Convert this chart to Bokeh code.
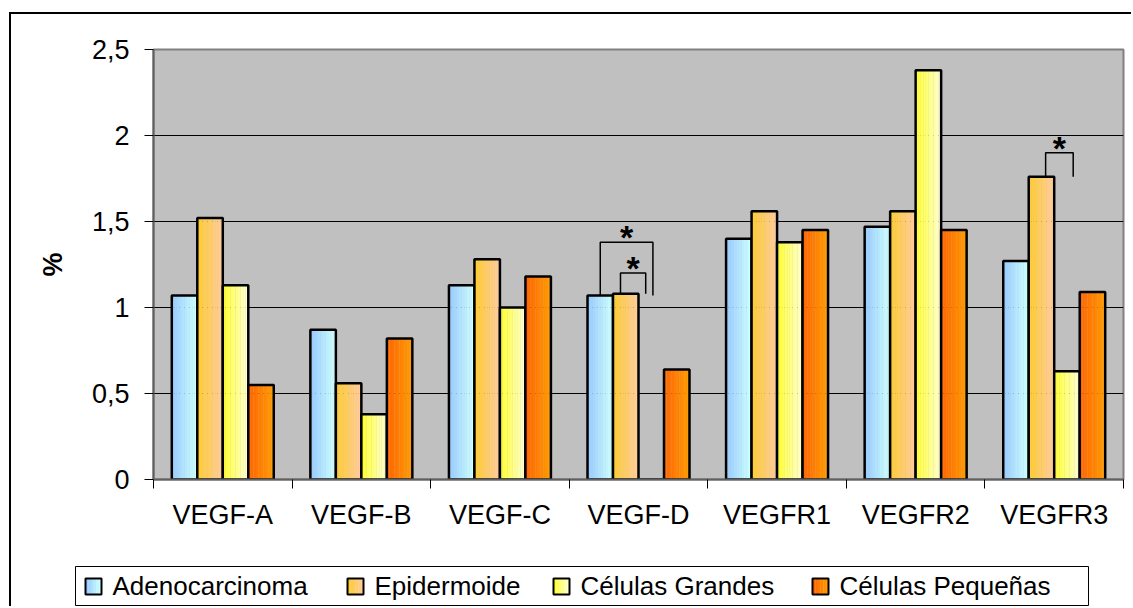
from bokeh.plotting import figure
from bokeh.models import FixedTicker, Range1d
from bokeh.embed import file_html
from bokeh.resources import INLINE
from bokeh.core.properties import value

# ---------------- data ----------------
categories = ["VEGF-A", "VEGF-B", "VEGF-C", "VEGF-D", "VEGFR1", "VEGFR2", "VEGFR3"]
series_names = ["Adenocarcinoma", "Epidermoide", "Células Grandes", "Células Pequeñas"]
adenocarcinoma = [1.07, 0.87, 1.13, 1.07, 1.40, 1.47, 1.27]
epidermoide = [1.52, 0.56, 1.28, 1.08, 1.56, 1.56, 1.76]
celulas_grandes = [1.13, 0.38, 1.00, 0.00, 1.38, 2.38, 0.63]
celulas_pequenas = [0.55, 0.82, 1.18, 0.64, 1.45, 1.45, 1.09]
y_ticks = [0, 0.5, 1, 1.5, 2, 2.5]
y_tick_labels = ["0", "0,5", "1", "1,5", "2", "2,5"]
y_axis_label = "%"
# significance brackets: (category, left series index, right series index, bracket top, mark)
brackets = [("VEGF-D", 0, 2, 1.38, "*"),
            ("VEGF-D", 1, 2, 1.20, "*"),
            ("VEGFR3", 1, 2, 1.90, "*")]

# ---------------- styles ----------------
FONT = "Liberation Sans"
grad = [("#99CCFF", "#CCFFFF"), ("#FFCC33", "#FFCC99"),
        ("#FFFF33", "#FFFFCC"), ("#FF6600", "#FF9900")]
bracket_nudge = [(0.0, 0.012), (-0.038, -0.04), (0.03, 0.045)]
legend_marker_x = [10, 272, 478, 737]   # px inside legend frame
legend_text_gap = 27
legend_marker_y = (12, 28)
legend_text_y = 21

series = [adenocarcinoma, epidermoide, celulas_grandes, celulas_pequenas]
n_cat = len(categories)
centers = [i + 0.5 for i in range(n_cat)]
bw = 0.184
N_STRIPS = 10


def mix(c1, c2, t):
    a = [int(c1[i:i + 2], 16) for i in (1, 3, 5)]
    b = [int(c2[i:i + 2], 16) for i in (1, 3, 5)]
    return "#%02x%02x%02x" % tuple(round(a[j] + (b[j] - a[j]) * t) for j in range(3))


W = 1122
HM = 546
p = figure(width=W, height=HM, output_backend="svg", toolbar_location=None,
           x_range=Range1d(0, n_cat), y_range=Range1d(0, 2.5),
           min_border_left=142, min_border_right=10, min_border_top=35, min_border_bottom=81)
p.background_fill_color = "#C0C0C0"
p.border_fill_color = "white"
p.outline_line_color = "#808080"
p.outline_line_width = 2

# bars with horizontal gradient (strips) and black outline
for si, vals in enumerate(series):
    off = (si - 1.5) * bw
    c1, c2 = grad[si]
    for k in range(N_STRIPS):
        t = k / (N_STRIPS - 1)
        sx = off - bw / 2 + (k + 0.5) * bw / N_STRIPS
        p.vbar(x=[c + sx for c in centers], top=vals, bottom=0,
               width=bw / N_STRIPS * 1.05, fill_color=mix(c1, c2, t), line_color=None)
    p.vbar(x=[c + off for c in centers], top=vals, bottom=0, width=bw,
           fill_alpha=0, line_color="black", line_width=2.5)

# significance brackets
for (cat, a, b, top, mark), (dl, dr) in zip(brackets, bracket_nudge):
    ci = categories.index(cat)
    xl = centers[ci] + (a - 1.5) * bw + dl
    xr = centers[ci] + (b - 1.5) * bw + dr
    yb = series[a][ci]
    p.line(x=[xl, xl, xr, xr], y=[yb, top, top, yb], line_color="black", line_width=1.5)
    p.text(x=[(xl + xr) / 2], y=[top], text=[mark], text_align="center",
           text_baseline="alphabetic", text_font=value(FONT), text_font_size="34px",
           text_font_style="bold", y_offset=-5, text_color="black")

# axes
p.xgrid.visible = False
p.ygrid.ticker = FixedTicker(ticks=y_ticks)
p.ygrid.grid_line_color = "black"
p.ygrid.grid_line_width = 1

ya = p.yaxis[0]
ya.ticker = FixedTicker(ticks=y_ticks)
ya.major_label_overrides = {t: l for t, l in zip(y_ticks, y_tick_labels)}
ya.major_tick_out = 9
ya.major_tick_in = 0
ya.minor_tick_line_color = None
ya.major_label_text_font = FONT
ya.major_label_text_font_size = "27px"
ya.major_label_text_color = "black"
ya.major_label_standoff = 15
ya.axis_line_color = "#606060"
ya.axis_line_width = 2
ya.major_tick_line_color = "black"
ya.axis_label = y_axis_label
ya.axis_label_text_font = FONT
ya.axis_label_text_font_style = "bold"
ya.axis_label_text_font_size = "27px"
ya.axis_label_text_color = "black"
ya.axis_label_standoff = 21

xa = p.xaxis[0]
xa.ticker = FixedTicker(ticks=centers, minor_ticks=list(range(n_cat + 1)))
xa.major_label_overrides = {c: l for c, l in zip(centers, categories)}
xa.major_tick_out = 0
xa.major_tick_in = 0
xa.minor_tick_out = 9
xa.minor_tick_in = 0
xa.minor_tick_line_color = "black"
xa.major_label_text_font = FONT
xa.major_label_text_font_size = "27px"
xa.major_label_text_color = "black"
xa.major_label_standoff = 11
xa.axis_line_color = "#606060"
xa.axis_line_width = 2

# ---------------- legend (separate strip below the chart) ----------------
HL = 48
LFW, LFH = 1013, 40
lg = figure(width=W, height=HL, output_backend="svg", toolbar_location=None,
            x_range=Range1d(0, LFW), y_range=Range1d(0, LFH),
            x_axis_type=None, y_axis_type=None,
            min_border_left=64, min_border_right=W - 64 - LFW, min_border_top=8, min_border_bottom=0)
lg.xgrid.visible = False
lg.ygrid.visible = False
lg.background_fill_color = "white"
lg.border_fill_color = "white"
lg.outline_line_color = "black"
lg.outline_line_width = 1

y0, y1 = legend_marker_y
NS = 6
for si, name in enumerate(series_names):
    mx = legend_marker_x[si]
    c1, c2 = grad[si]
    sw = 16 / NS
    lg.quad(left=[mx + k * sw for k in range(NS)], right=[mx + (k + 1) * sw + 0.3 for k in range(NS)],
            bottom=[y0] * NS, top=[y1] * NS,
            fill_color=[mix(c1, c2, k / (NS - 1)) for k in range(NS)], line_color=None)
    lg.quad(left=[mx], right=[mx + 16], bottom=[y0], top=[y1],
            fill_alpha=0, line_color="black", line_width=2)
    lg.text(x=[mx + legend_text_gap], y=[legend_text_y], text=[name],
            text_font=value(FONT), text_font_size="26px", text_baseline="alphabetic",
            text_align="left", text_color="black")

p.margin = (12, 0, 0, 9)
p.styles = {"border-left": "2px solid black", "border-top": "2px solid black"}
lg.margin = (0, 0, 0, 9)
lg.styles = {"border-left": "2px solid black"}

open("out.html", "w").write(file_html([p, lg], INLINE))
